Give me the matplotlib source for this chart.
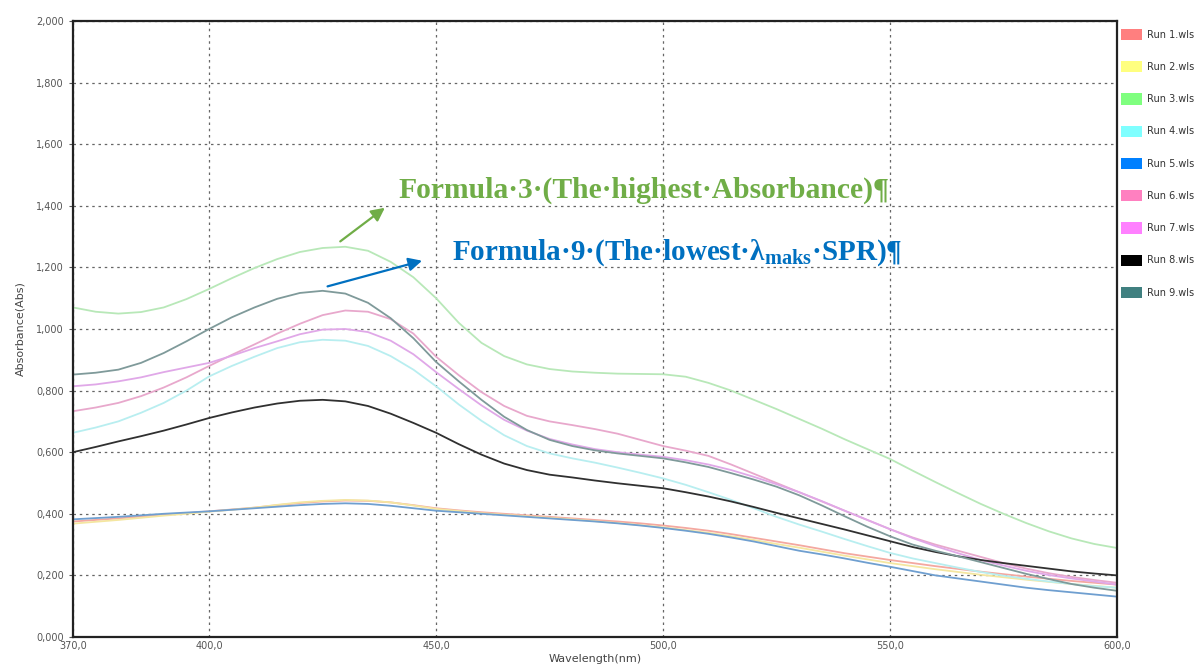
import matplotlib
matplotlib.use("Agg")
import matplotlib.pyplot as plt
from matplotlib.patches import Patch
from matplotlib.ticker import FuncFormatter, FixedLocator

# wavelengths (nm), every 5 nm
wavelength = [370, 375, 380, 385, 390, 395, 400, 405, 410, 415, 420, 425, 430, 435, 440, 445,
              450, 455, 460, 465, 470, 475, 480, 485, 490, 495, 500, 505, 510, 515, 520, 525,
              530, 535, 540, 545, 550, 555, 560, 565, 570, 575, 580, 585, 590, 595, 600]

# absorbance per run
run1 = [0.375, 0.380, 0.385, 0.391, 0.397, 0.402, 0.408, 0.414, 0.420, 0.428, 0.435, 0.440,
        0.443, 0.442, 0.437, 0.428, 0.418, 0.411, 0.405, 0.400, 0.395, 0.390, 0.385, 0.380,
        0.375, 0.369, 0.362, 0.354, 0.345, 0.334, 0.322, 0.310, 0.298, 0.285, 0.272, 0.261,
        0.250, 0.240, 0.230, 0.221, 0.212, 0.204, 0.196, 0.189, 0.182, 0.176, 0.170]
run2 = [0.368, 0.374, 0.380, 0.387, 0.394, 0.400, 0.407, 0.413, 0.420, 0.429, 0.437, 0.442,
        0.445, 0.443, 0.437, 0.427, 0.416, 0.409, 0.402, 0.397, 0.392, 0.387, 0.382, 0.376,
        0.370, 0.363, 0.356, 0.347, 0.338, 0.327, 0.315, 0.302, 0.290, 0.277, 0.264, 0.252,
        0.240, 0.230, 0.220, 0.211, 0.202, 0.194, 0.186, 0.179, 0.172, 0.166, 0.160]
run3 = [1.070, 1.056, 1.050, 1.055, 1.070, 1.097, 1.130, 1.165, 1.198, 1.227, 1.250, 1.263,
        1.267, 1.254, 1.218, 1.168, 1.100, 1.020, 0.955, 0.912, 0.885, 0.870, 0.862, 0.858,
        0.855, 0.854, 0.853, 0.845, 0.825, 0.800, 0.770, 0.740, 0.708, 0.676, 0.642, 0.610,
        0.578, 0.540, 0.503, 0.467, 0.432, 0.400, 0.370, 0.343, 0.320, 0.302, 0.289]
run4 = [0.663, 0.680, 0.700, 0.728, 0.760, 0.800, 0.846, 0.880, 0.910, 0.938, 0.957, 0.965,
        0.962, 0.945, 0.912, 0.868, 0.814, 0.755, 0.702, 0.655, 0.620, 0.596, 0.580, 0.566,
        0.550, 0.533, 0.515, 0.494, 0.470, 0.445, 0.418, 0.390, 0.365, 0.342, 0.318, 0.295,
        0.273, 0.255, 0.240, 0.225, 0.211, 0.199, 0.189, 0.180, 0.172, 0.165, 0.160]
run5 = [0.382, 0.386, 0.390, 0.395, 0.400, 0.404, 0.408, 0.413, 0.418, 0.423, 0.428, 0.432,
        0.434, 0.432, 0.426, 0.418, 0.410, 0.405, 0.400, 0.395, 0.390, 0.385, 0.380, 0.375,
        0.369, 0.362, 0.354, 0.345, 0.335, 0.323, 0.310, 0.295, 0.280, 0.268, 0.255, 0.241,
        0.228, 0.214, 0.200, 0.190, 0.180, 0.170, 0.160, 0.152, 0.145, 0.138, 0.131]
run6 = [0.733, 0.745, 0.760, 0.782, 0.810, 0.843, 0.880, 0.916, 0.950, 0.985, 1.017, 1.045,
        1.060, 1.056, 1.032, 0.985, 0.910, 0.850, 0.795, 0.750, 0.718, 0.700, 0.688, 0.675,
        0.660, 0.640, 0.620, 0.605, 0.588, 0.560, 0.530, 0.500, 0.470, 0.440, 0.410, 0.380,
        0.350, 0.323, 0.300, 0.280, 0.260, 0.240, 0.222, 0.207, 0.195, 0.185, 0.176]
run7 = [0.814, 0.820, 0.830, 0.843, 0.860, 0.875, 0.890, 0.913, 0.938, 0.960, 0.983, 0.998,
        1.000, 0.990, 0.962, 0.918, 0.860, 0.805, 0.752, 0.705, 0.670, 0.643, 0.625, 0.610,
        0.600, 0.592, 0.585, 0.574, 0.560, 0.542, 0.520, 0.496, 0.470, 0.441, 0.410, 0.380,
        0.350, 0.321, 0.295, 0.272, 0.250, 0.232, 0.215, 0.201, 0.190, 0.180, 0.170]
run8 = [0.600, 0.617, 0.635, 0.652, 0.670, 0.690, 0.711, 0.729, 0.745, 0.758, 0.767, 0.770,
        0.765, 0.750, 0.725, 0.695, 0.663, 0.626, 0.592, 0.563, 0.542, 0.527, 0.518, 0.508,
        0.499, 0.491, 0.483, 0.470, 0.456, 0.440, 0.422, 0.403, 0.385, 0.367, 0.349, 0.330,
        0.311, 0.292, 0.276, 0.262, 0.250, 0.240, 0.231, 0.222, 0.213, 0.206, 0.200]
run9 = [0.852, 0.858, 0.868, 0.890, 0.922, 0.960, 1.000, 1.038, 1.070, 1.098, 1.117, 1.124,
        1.115, 1.085, 1.035, 0.970, 0.893, 0.830, 0.770, 0.715, 0.672, 0.640, 0.620, 0.606,
        0.596, 0.588, 0.580, 0.567, 0.552, 0.532, 0.511, 0.488, 0.460, 0.427, 0.392, 0.358,
        0.327, 0.300, 0.280, 0.262, 0.243, 0.224, 0.205, 0.188, 0.172, 0.160, 0.150]

run_labels = ["Run 1.wls", "Run 2.wls", "Run 3.wls", "Run 4.wls", "Run 5.wls",
              "Run 6.wls", "Run 7.wls", "Run 8.wls", "Run 9.wls"]
legend_colors = ["#ff7f7f", "#ffff7f", "#7fff7f", "#7fffff", "#0080ff",
                 "#ff80c0", "#ff80ff", "#000000", "#408080"]
# plotted lines look washed out compared with the legend swatches
line_colors = ["#f4a8a0", "#f4e6a0", "#b8e8b8", "#b8eef0", "#6f9fd0",
               "#e8a8cc", "#e0a8e8", "#303030", "#7f9a9a"]
runs = [run1, run2, run3, run4, run5, run6, run7, run8, run9]

x_ticks = [370, 400, 450, 500, 550, 600]
y_ticks = [0.0, 0.2, 0.4, 0.6, 0.8, 1.0, 1.2, 1.4, 1.6, 1.8, 2.0]

fig = plt.figure(figsize=(12, 6.71), dpi=100)
ax = fig.add_axes([0.0608, 0.0507, 0.870, 0.918])

for vals, c in zip(runs, line_colors):
    ax.plot(wavelength, vals, color=c, lw=1.3)

ax.set_xlim(370, 600)
ax.set_ylim(0, 2.0)
ax.xaxis.set_major_locator(FixedLocator(x_ticks))
ax.yaxis.set_major_locator(FixedLocator(y_ticks))
ax.xaxis.set_major_formatter(FuncFormatter(lambda v, p: f"{v:.1f}".replace(".", ",")))
ax.yaxis.set_major_formatter(FuncFormatter(lambda v, p: f"{v:.3f}".replace(".", ",")))
ax.tick_params(labelsize=7, colors="#555555", length=3, width=0.8)
ax.tick_params(axis="x", length=0, pad=3)
ax.grid(True, color="#666666", linestyle=(0, (2, 3)), linewidth=0.9)
for s in ax.spines.values():
    s.set_color("#222222")
    s.set_linewidth(1.6)

ax.set_xlabel("Wavelength(nm)", fontsize=8, color="#444444", labelpad=2)
ax.set_ylabel("Absorbance(Abs)", fontsize=8, color="#444444", labelpad=8)

# annotations
plt.rcParams["mathtext.fontset"] = "custom"
plt.rcParams["mathtext.rm"] = "Liberation Serif:bold"
plt.rcParams["mathtext.bf"] = "Liberation Serif:bold"
plt.rcParams["mathtext.it"] = "Liberation Serif:bold"

green = "#70ad47"
blue = "#0070c0"
ax.annotate("", xy=(439.2, 1.399), xytext=(428.4, 1.279),
            arrowprops=dict(arrowstyle="-|>", color=green, lw=1.6, mutation_scale=20))
ax.annotate("", xy=(447.5, 1.224), xytext=(425.5, 1.136),
            arrowprops=dict(arrowstyle="-|>", color=blue, lw=1.6, mutation_scale=20))
ax.text(441.6, 1.451, "Formula·3·(The·highest·Absorbance)¶", color=green,
        fontsize=21.3, fontweight="bold", family="Liberation Serif", va="center", ha="left")
ax.text(453.5, 1.247, r"Formula·9·(The·lowest·$\mathrm{\lambda_{maks}}$·SPR)¶", color=blue,
        fontsize=21.0, fontweight="bold", family="Liberation Serif", va="center", ha="left")

handles = [Patch(facecolor=c, edgecolor="none") for c in legend_colors]
fig.legend(handles, run_labels, loc="upper left", bbox_to_anchor=(1119 / 1200, 1 - 27 / 671),
           frameon=False, fontsize=7, handlelength=2.2, handleheight=1.4,
           labelspacing=2.16, handletextpad=0.5, borderpad=0.2, borderaxespad=0,
           labelcolor="#333333")

fig.savefig("out.png", dpi=100, facecolor="white")
